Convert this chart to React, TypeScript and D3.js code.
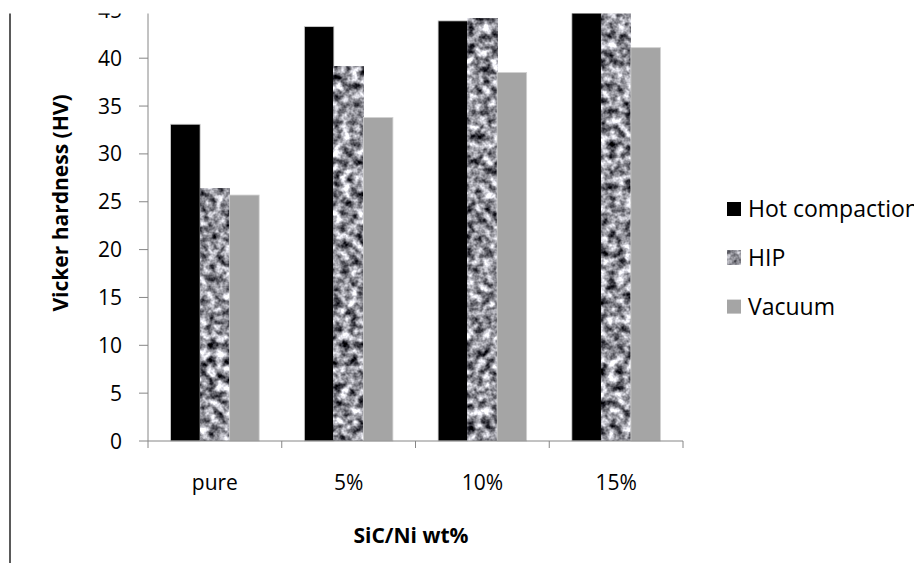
import React from 'react';
import * as d3 from 'd3';

const categories = ['pure', '5%', '10%', '15%'];
const seriesNames = ['Hot compaction', 'HIP', 'Vacuum'];
const hotCompaction = [33.1, 43.3, 43.9, 46.5];
const hip = [26.4, 39.1, 44.1, 47.0];
const vacuum = [25.7, 33.8, 38.5, 41.1];
const yTicks = [0, 5, 10, 15, 20, 25, 30, 35, 40, 45, 50];
const xTitle = 'SiC/Ni wt%';
const yTitle = 'Vicker hardness (HV)';

const W = 914;
const H = 563;
const FONT = "'Open Sans', Lato, sans-serif";
const FS = 21;

export default function App() {
  const left = 148;
  const right = 683;
  const base = 441;
  const pxPerUnit = 9.57;
  const y = d3.scaleLinear().domain([0, 50]).range([base, base - 50 * pxPerUnit]);
  const x = d3.scaleBand<string>().domain(categories).range([left, right]).padding(0);
  const step = x.step();
  const pad = 22.6;
  const xi = d3.scaleBand<string>().domain(seriesNames).range([pad, step - pad]).padding(0);
  const seriesValues = [hotCompaction, hip, vacuum];
  const fills = ['#000000', '#888888', '#a5a5a5'];

  const bars: React.ReactNode[] = [];
  seriesNames.forEach((s, si) => {
    categories.forEach((c, ci) => {
      const v = seriesValues[si][ci];
      const bx = (x(c) as number) + (xi(s) as number);
      const by = y(v);
      const bw = xi.bandwidth();
      const bh = base - by;
      bars.push(
        <rect
          key={s + c}
          x={bx}
          y={by}
          width={bw}
          height={bh}
          fill={fills[si]}
          filter={si === 1 ? 'url(#granite)' : undefined}
          stroke="#d0d0d0"
          strokeWidth={0.8}
        />
      );
    });
  });

  const boundaries = [...categories.map((c) => x(c) as number), right];

  return (
    <svg
      width={W}
      height={H}
      style={{ position: 'absolute', left: 0, top: 0, background: '#fff' }}
      fontFamily={FONT}
    >
      <defs>
        <filter id="granite" x="0" y="0" width="1" height="1" filterUnits="objectBoundingBox" colorInterpolationFilters="sRGB">
          <feTurbulence type="fractalNoise" baseFrequency="0.12" numOctaves="3" seed="7" result="n" />
          <feColorMatrix
            in="n"
            type="matrix"
            result="g"
            values="1.8 0 0 0 -0.33  1.8 0 0 0 -0.33  1.8 0 0 0 -0.30  0 0 0 0 1"
          />
          <feGaussianBlur in="g" stdDeviation="0.7" />
        </filter>
        <clipPath id="crop">
          <rect x={0} y={13.5} width={W} height={H} />
        </clipPath>
      </defs>
      <g clipPath="url(#crop)">
        <rect x={0} y={0} width={W} height={H} fill="#fff" />
        <line x1={10} x2={10} y1={0} y2={H} stroke="#5a5a5a" strokeWidth={2} />
        {bars}
        {/* y axis */}
        <line x1={left} x2={left} y1={y(50)} y2={base} stroke="#868686" strokeWidth={1} />
        {yTicks.map((t) => (
          <g key={t}>
            <line x1={left - 9} x2={left} y1={y(t)} y2={y(t)} stroke="#868686" strokeWidth={1} />
            <text x={122} y={y(t)} dy="0.36em" textAnchor="end" fontSize={FS} fill="#000">
              {t}
            </text>
          </g>
        ))}
        {/* x axis */}
        <line x1={left} x2={right} y1={base} y2={base} stroke="#868686" strokeWidth={1} />
        {boundaries.map((b, i) => (
          <line key={i} x1={b} x2={b} y1={base} y2={base + 7} stroke="#868686" strokeWidth={1} />
        ))}
        {categories.map((c) => (
          <text key={c} x={(x(c) as number) + step / 2} y={490} textAnchor="middle" fontSize={FS} fill="#000">
            {c}
          </text>
        ))}
        <text x={411} y={543} textAnchor="middle" fontSize={FS} fontWeight="bold" fill="#000">
          {xTitle}
        </text>
        <text
          transform={`translate(68,203) rotate(-90)`}
          textAnchor="middle"
          fontSize={FS}
          fontWeight="bold"
          fill="#000"
        >
          {yTitle}
        </text>
        {/* legend */}
        {seriesNames.map((s, si) => {
          const ly = 209 + si * 48.8;
          return (
            <g key={s}>
              <rect
                x={727}
                y={ly - 7}
                width={14}
                height={14}
                fill={fills[si]}
                filter={si === 1 ? 'url(#granite)' : undefined}
              />
              <text x={748} y={ly} dy="0.36em" fontSize={FS + 2} fill="#000">
                {s}
              </text>
            </g>
          );
        })}
      </g>
    </svg>
  );
}
